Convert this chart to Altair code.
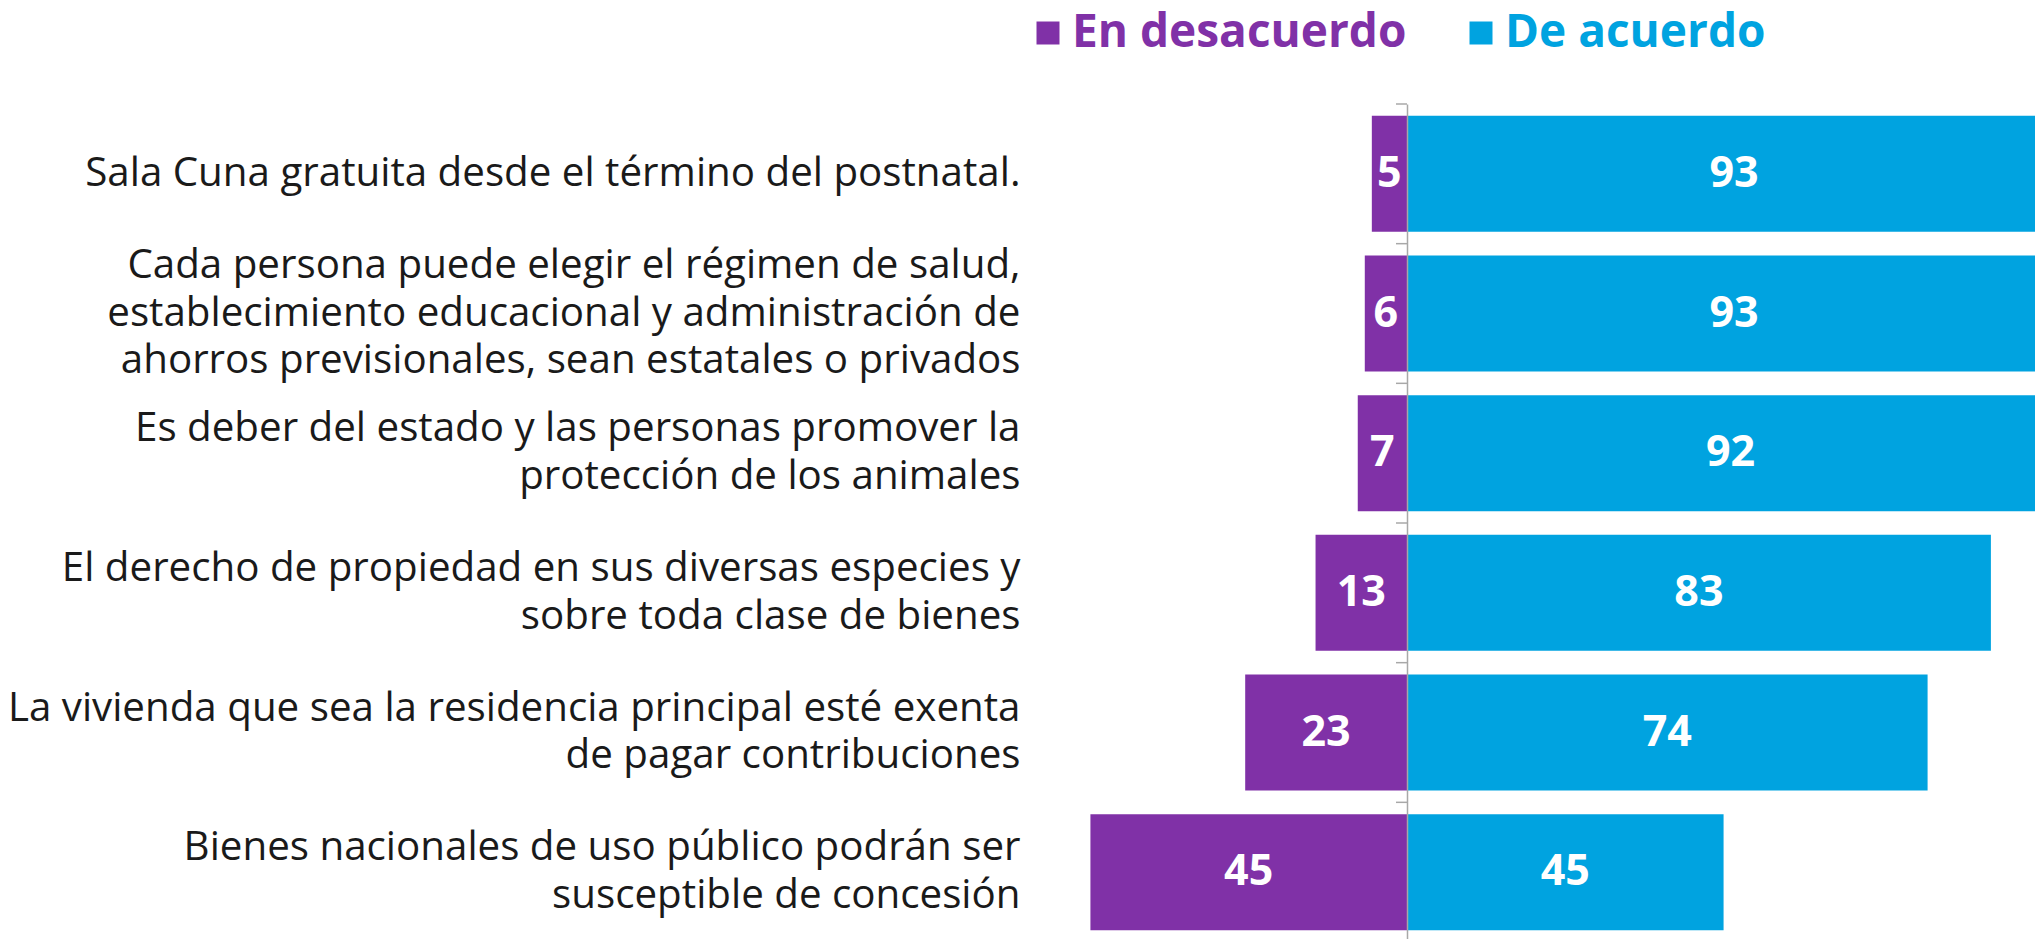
import altair as alt
import pandas as pd

categories = [
    "Sala Cuna gratuita desde el término del postnatal.",
    "Cada persona puede elegir el régimen de salud,|establecimiento educacional y administración de|ahorros previsionales, sean estatales o privados",
    "Es deber del estado y las personas promover la\u00a0|protección de los animales\u00a0",
    "El derecho de propiedad en sus diversas especies y|sobre toda clase de bienes",
    "La vivienda que sea la residencia principal esté exenta|de pagar contribuciones",
    "Bienes nacionales de uso público podrán ser|susceptible de concesión",
]
desacuerdo = [5, 6, 7, 13, 23, 45]
acuerdo = [93, 93, 92, 83, 74, 45]
series = ["En desacuerdo", "De acuerdo"]
colors = ["#8031a7", "#00a3e0"]

rows = []
for c, d, a in zip(categories, desacuerdo, acuerdo):
    rows.append({"cat": c, "serie": series[0], "value": d, "start": -d, "end": 0, "mid": -d / 2})
    rows.append({"cat": c, "serie": series[1], "value": a, "start": 0, "end": a, "mid": a / 2})
df = pd.DataFrame(rows)
tick_df = pd.DataFrame({"cat": categories, "x0": [0] * len(categories)})

FONT = "Open Sans"
PX_PER_UNIT = 7.035
ZERO_OFFSET = 407
PLOT_W = 1035
PLOT_H = 838
LINE_H = 47.5
TICK = 11
PAD_INNER = 0.17
STEP = PLOT_H / len(categories)
xmin = -ZERO_OFFSET / PX_PER_UNIT
xmax = (PLOT_W - ZERO_OFFSET) / PX_PER_UNIT
GRAY = "#a8a8a8"

tick_df["x1"] = -TICK / PX_PER_UNIT

yscale = alt.Scale(paddingInner=PAD_INNER, paddingOuter=PAD_INNER / 2)

y_enc = alt.Y(
    "cat:N",
    sort=categories,
    scale=yscale,
    axis=alt.Axis(
        title=None,
        labelExpr="split(datum.label, '|')",
        labelOffset={"expr": f"-(length(split(datum.label, '|')) - 1) * {LINE_H / 2}"},
        offset=-ZERO_OFFSET,
        ticks=False,
        labelPadding=1407 - 1020,
        labelFontSize=40.3,
        labelFont=FONT,
        labelColor="#1a1a1a",
        labelLineHeight=LINE_H,
        labelLimit=0,
        labelAlign="right",
        labelBaseline="middle",
        domainColor=GRAY,
        domainWidth=1.5,
        zindex=1,
    ),
)

xscale = alt.Scale(domain=[xmin, xmax], nice=False, zero=False)

base = alt.Chart(df)

bars = base.mark_bar(clip=True).encode(
    x=alt.X("start:Q", scale=xscale, axis=None),
    x2="end:Q",
    y=y_enc,
    color=alt.Color(
        "serie:N",
        sort=series,
        scale=alt.Scale(domain=series, range=colors),
        legend=alt.Legend(
            title=None,
            orient="none",
            legendX=25,
            legendY=-94,
            direction="horizontal",
            symbolType="square",
            symbolSize=529,
            symbolStrokeWidth=0,
            labelFontSize=46,
            labelFont=FONT,
            labelFontWeight="bold",
            labelColor={"expr": "datum.label == 'En desacuerdo' ? '#8031a7' : '#00a3e0'"},
            labelOffset=1,
            columnPadding=51,
            labelLimit=0,
        ),
    ),
)

# small ticks at the band boundaries, left of the zero line
ticks = alt.Chart(tick_df).mark_rule(
    color=GRAY, strokeWidth=1.5, yOffset=-PAD_INNER * STEP / 2
).encode(
    y=alt.Y("cat:N", sort=categories, bandPosition=0),
    x=alt.X("x0:Q", scale=xscale, axis=None),
    x2="x1:Q",
)

labels = base.mark_text(
    color="white", fontSize=43, fontWeight="bold", font=FONT, baseline="middle", align="center"
).encode(
    x=alt.X("mid:Q", scale=xscale, axis=None),
    y=alt.Y("cat:N", sort=categories),
    text="value:Q",
)

chart = (
    alt.layer(bars, ticks, labels)
    .properties(
        width=PLOT_W,
        height=PLOT_H,
        autosize=alt.AutoSizeParams(type="none"),
        padding={"left": 992, "top": 96, "right": 0, "bottom": 0},
    )
    .configure_view(stroke=None)
)

chart.save("out.html", embed_options={"renderer": "svg", "actions": False})
